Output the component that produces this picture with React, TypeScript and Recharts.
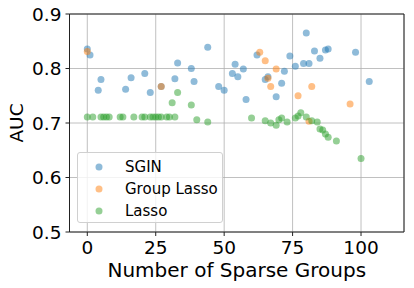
import React from "react";
import {
  ScatterChart,
  Scatter,
  XAxis,
  YAxis,
  CartesianGrid,
  Legend,
  ReferenceLine,
} from "recharts";

const sginX = [0, 1, 4, 5, 14, 16, 21, 23, 27, 32, 33, 38, 39, 44, 48, 50, 53, 54, 55, 57, 58, 62, 65, 66, 69, 71, 72, 74, 76, 79, 80, 81, 83, 85, 87, 88, 98, 103];
const sginY = [0.836, 0.825, 0.76, 0.78, 0.762, 0.783, 0.791, 0.756, 0.767, 0.781, 0.81, 0.8, 0.776, 0.839, 0.767, 0.76, 0.791, 0.808, 0.785, 0.799, 0.743, 0.825, 0.78, 0.785, 0.748, 0.773, 0.795, 0.823, 0.804, 0.809, 0.865, 0.809, 0.832, 0.819, 0.834, 0.836, 0.83, 0.776];

const groupX = [0, 27, 63, 65, 66, 67, 69, 77, 81, 82, 96];
const groupY = [0.831, 0.767, 0.83, 0.814, 0.782, 0.767, 0.799, 0.75, 0.703, 0.767, 0.735];

const lassoX = [0, 2, 5, 6, 7, 8, 12, 13, 17, 20, 21, 23, 24, 25, 26, 27, 29, 30, 32, 31, 33, 38, 40, 44, 60, 65, 67, 69, 70, 71, 73, 76, 77, 78, 80, 82, 84, 85, 86, 87, 88, 91, 100];
const lassoY = [0.711, 0.711, 0.711, 0.711, 0.711, 0.711, 0.711, 0.711, 0.711, 0.711, 0.711, 0.711, 0.711, 0.711, 0.711, 0.711, 0.711, 0.711, 0.711, 0.737, 0.756, 0.733, 0.706, 0.702, 0.709, 0.704, 0.7, 0.696, 0.706, 0.709, 0.702, 0.709, 0.713, 0.719, 0.711, 0.704, 0.702, 0.689, 0.687, 0.68, 0.674, 0.667, 0.635];

const xTicks = [0, 25, 50, 75, 100];
const yTicks = [0.5, 0.6, 0.7, 0.8, 0.9];
const X_MIN = -6.5;
const X_MAX = 115.7;

const toPoints = (xs: number[], ys: number[]) => xs.map((x, i) => ({ x, y: ys[i] }));

const series = [
  { name: "SGIN", color: "#1f77b4", data: toPoints(sginX, sginY) },
  { name: "Group Lasso", color: "#ff7f0e", data: toPoints(groupX, groupY) },
  { name: "Lasso", color: "#2ca02c", data: toPoints(lassoX, lassoY) },
];

const FONT = "'DejaVu Sans', sans-serif";

const Dot = (props: any) => {
  const { cx, cy, fill } = props;
  if (cx == null || cy == null) return null;
  return <circle cx={cx} cy={cy} r={3.5} fill={fill} fillOpacity={0.5} />;
};

const YLabel = (props: any) => {
  const vb = props.viewBox || {};
  const cy = vb.height ? vb.y + vb.height / 2 : 126;
  const cx = 16;
  return (
    <text
      x={cx}
      y={cy}
      transform={`rotate(-90, ${cx}, ${cy})`}
      textAnchor="middle"
      dominantBaseline="central"
      fontSize={18.5}
      fontFamily={FONT}
      fill="#000"
    >
      AUC
    </text>
  );
};

const LegendBox = () => (
  <div
    style={{
      width: 146,
      height: 71,
      border: "1px solid #d0d0d0",
      borderRadius: 3,
      background: "rgba(255,255,255,0.8)",
      fontFamily: FONT,
      fontSize: 15,
      color: "#000",
      boxSizing: "border-box",
      paddingTop: 3,
    }}
  >
    {series.map((s) => (
      <div key={s.name} style={{ display: "flex", alignItems: "center", height: 22 }}>
        <svg width={47} height={22}>
          <circle cx={21} cy={11} r={3.5} fill={s.color} fillOpacity={0.5} />
        </svg>
        <span>{s.name}</span>
      </div>
    ))}
  </div>
);

export default function App() {
  return (
    <div style={{ position: "absolute", left: 0, top: 0 }}>
      <ScatterChart
        width={414}
        height={288}
        margin={{ top: 14, right: 10, bottom: 0, left: 0 }}
      >
        <CartesianGrid stroke="#b0b0b0" strokeWidth={0.8} />
        <XAxis
          type="number"
          dataKey="x"
          domain={[X_MIN, X_MAX]}
          ticks={xTicks}
          allowDataOverflow
          height={56}
          tickSize={4}
          tickMargin={5}
          stroke="#222"
          tick={{ fill: "#000", fontSize: 18.5, fontFamily: FONT }}
          label={{
            value: "Number of Sparse Groups",
            position: "insideBottom",
            offset: 11,
            fill: "#000",
            fontSize: 20,
            fontFamily: FONT,
          }}
        />
        <YAxis
          type="number"
          dataKey="y"
          domain={[0.5, 0.9]}
          ticks={yTicks}
          allowDataOverflow
          width={69.5}
          tickSize={4}
          tickMargin={4}
          stroke="#222"
          tickFormatter={(v: number) => v.toFixed(1)}
          tick={{ fill: "#000", fontSize: 18.5, fontFamily: FONT }}
          label={<YLabel />}
        />
        <ReferenceLine y={0.9} stroke="#222" />
        <ReferenceLine x={X_MAX} stroke="#222" />
        {series.map((s) => (
          <Scatter
            key={s.name}
            name={s.name}
            data={s.data}
            fill={s.color}
            shape={<Dot />}
            isAnimationActive={false}
          />
        ))}
        <Legend
          layout="horizontal"
          verticalAlign="middle"
          content={<LegendBox />}
          wrapperStyle={{ left: 77, top: 152, width: "auto" }}
        />
      </ScatterChart>
    </div>
  );
}
